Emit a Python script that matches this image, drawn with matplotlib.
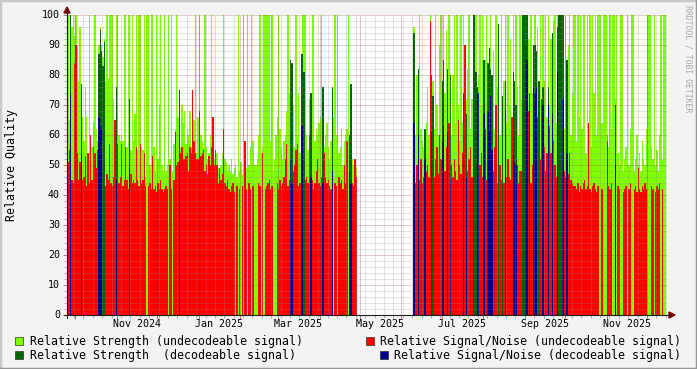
import numpy as np
import pandas as pd
import matplotlib
matplotlib.use("Agg")
import matplotlib.pyplot as plt
import matplotlib.dates as mdates
from matplotlib.lines import Line2D
from matplotlib.patches import Rectangle, Polygon

N = None  # no sample that day

first_day = "2024-09-25"

# light green: relative strength, undecodeable signal (daily)
strength_undec = [
    100, 65, 100, 96, 100, 93, 100, 90, 78, 96,
    70, 66, 58, 76, 66, 52, 100, 60, 56, 64,
    100, 62, 58, 90, 96, 90, 86, 92, 78, 100,
    79, 100, 100, 100, 72, 60, 100, 100, 60, 58,
    60, 58, 100, 100, 56, 100, 100, 55, 100, 58,
    67, 100, 55, 100, 100, 56, 55, 100, 46, 100,
    100, 50, 100, 100, 56, 48, 100, 52, 70, 100,
    50, 48, 100, 48, 50, 100, 52, 100, 48, 57,
    62, 100, 66, 70, 56, 70, 64, 68, 57, 62,
    60, 68, 56, 62, 65, 100, 54, 66, 100, 60,
    58, 56, 100, 56, 52, 54, 60, 100, 62, 52,
    52, 54, 49, 48, 50, 54, 100, 52, 51, 48,
    50, 48, 52, 47, 49, 50, 46, 100, 48, 51,
    47, 100, 52, 49, 100, 50, 56, 100, 58, 50,
    50, 52, 60, 100, 54, 56, 100, 100, 100, 100,
    100, 58, 100, 48, 52, 60, 66, 100, 62, 56,
    52, 58, 60, 68, 100, 74, 60, 62, 70, 56,
    100, 60, 74, 54, 62, 100, 100, 100, 60, 55,
    72, 60, 100, 100, 58, 62, 60, 64, 66, 100,
    66, 56, 60, 64, 56, 52, 58, 60, 66, 100,
    60, 100, 54, 56, 62, 50, 58, 60, 62, 100,
    58, 64, 52, 50, 48, 49,
    N, N, N, N, N, N, N, N, N, N, N, N, N, N, N, N, N, N, N, N, N,
    N, N, N, N, N, N, N, N, N, N, N, N, N, N, N, N, N, N, N, N, N,
    96, 60, 80, 62, 100, 62, 58, 56, 59, 64,
    76, 60, 100, 58, 78, 62, 100, 70, 60, 90,
    100, 66, 100, 74, 95, 62, 100, 78, 60, 80,
    100, 64, 100, 70, 58, 100, 64, 100, 66, 72,
    82, 100, 62, 72, 100, 66, 100, 60, 80, 100,
    70, 100, 62, 85, 100, 64, 86, 100, 70, 88,
    62, 100, 76, 84, 60, 100, 66, 78, 100, 64,
    100, 70, 92, 62, 100, 66, 100, 76, 60, 100,
    72, 100, 66, 100, 80, 92, 60, 100, 74, 86,
    100, 64, 96, 70, 100, 62, 100, 78, 100, 66,
    100, 70, 92, 62, 98, 100, 64, 100, 74, 100,
    70, 100, 62, 100, 80, 90, 100, 60, 74, 100,
    100, 58, 100, 66, 100, 62, 100, 100, 54, 100,
    62, 100, 56, 100, 74, 100, 60, 100,
    100, 100, 64, 100, 100, 100, 60, 56, 100, 62,
    100, 100, 72, 100, 54, 50, 100, 100, 48, 52,
    56, 100, 50, 62, 100, 100, 48, 52, 60, 50,
    54, 48, 58, 52, 50, 62, 100, 100, 100, 56,
    52, 100, 50, 55, 48, 60, 100, 52, 100, 100,
]

# red: relative signal/noise, undecodeable signal (daily)
snr_undec = [
    51, 55, 50, 45, 44, 84, 90, 54, 45, 51,
    44, 45, 46, 53, 43, 54, 44, 60, 45, 56,
    54, 49, 55, 45, 44, 46, 45, 44, 43, 47,
    45, 57, 44, 43, 46, 65, 45, 57, 44, 46,
    57, 43, 45, 56, 45, 42, 44, 47, 44, 45,
    44, 56, 45, 43, 57, 44, 45, 54, 43, N,
    43, 44, 42, 53, 42, 43, 41, 44, 42, 45,
    42, 41, 42, 43, 42, N, 50, 42, N, 45,
    61, 50, 51, 50, 54, 56, 52, 52, 53, 54,
    48, 56, 54, 75, 58, 54, 52, 52, 68, 53,
    54, 55, 48, 50, 47, 53, 50, 56, 66, 50,
    55, 50, 44, 49, 45, 47, 62, 44, 43, 45,
    42, 41, 43, 44, 41, N, 43, N, 42, N,
    43, N, 58, 42, N, 44, 42, N, 43, N,
    N, N, 44, 43, N, 54, N, 42, 43, 44,
    45, 42, 43, N, N, N, 44, 42, 45, 43,
    44, 46, 52, 57, 43, 45, 44, 44, 48, 50,
    55, 57, 43, 44, 44, 46, 44, 45, 46, 44,
    60, 44, 45, 42, 44, 48, 52, 44, 43, 46,
    44, 54, 46, 44, 45, 43, 42, 44, N, 44,
    43, N, 46, 44, 45, 42, 50, 44, 58, N,
    44, 44, 44, 43, 52, 46,
    N, N, N, N, N, N, N, N, N, N, N, N, N, N, N, N, N, N, N, N, N,
    N, N, N, N, N, N, N, N, N, N, N, N, N, N, N, N, N, N, N, N, N,
    47, 44, 50, 44, 45, 52, 44, 46, 44, 48,
    50, 46, 98, 44, 44, 46, 52, 56, 47, 60,
    52, 44, 44, 48, 56, 44, 64, 44, 50, 46,
    52, 48, 45, 65, 50, 47, 54, 44, 90, 44,
    48, 52, 56, 46, 44, 44, 44, 44, 44, 50,
    54, 46, 44, 62, 45, 44, 44, 44, 44, 48,
    56, 70, 44, 76, 50, 45, 44, 44, 44, 46,
    52, 46, 45, 66, 44, 44, 44, 50, 44, 48,
    48, 44, 44, 44, 44, 68, 56, 44, 50, 46,
    44, 44, 66, 44, 52, 72, 44, 56, 48, 54,
    44, 63, 54, 44, 58, 50, 46, 44, 44, 44,
    44, 44, 48, 46, 44, 47, 54, 45, 44, 43,
    43, 42, 44, 41, 43, 42, 44, 45, 42, 43,
    64, 42, 41, 43, 44, 42, 41, 43,
    N, N, 42, N, N, N, 58, 43, 42, 44,
    N, N, 42, N, 43, 42, N, N, 41, 42,
    43, N, 42, 44, N, N, 42, 43, 41, 49,
    42, 41, 43, 42, 44, 42, N, N, N, 43,
    42, N, 41, 43, 42, 44, N, 42, N, N,
]

# days (index from first_day) with a decodeable signal
dec_day = [
    2, 10, 23, 24, 25, 26, 27, 36, 46, 83,
    166, 167, 174, 175, 176, 181, 190, 197, 210, 211,
    258, 261, 266, 271, 272, 279, 280, 283, 285, 295,
    297, 302, 303, 304, 305, 306, 310, 313, 314, 315,
    316, 321, 324, 326, 332, 333, 334, 339, 340, 341,
    342, 344, 347, 348, 349, 351, 354, 358, 361, 365,
    366, 367, 368, 369, 372, 408,
]
# dark green: relative strength, decodeable signal
dec_strength = [
    100, 77, 87, 95, 88, 83, 91, 76, 72, 75,
    85, 84, 87, 87, 81, 74, 76, 76, 60, 77,
    94, 82, 62, 80, 73, 78, 85, 82, 80, 74,
    67, 100, 100, 81, 76, 70, 85, 84, 89, 82,
    80, 97, 73, 78, 81, 78, 70, 100, 100, 100,
    100, 74, 90, 90, 88, 78, 76, 76, 94, 96,
    100, 100, 100, 100, 85, 70,
]
# dark blue: relative signal/noise, decodeable signal
dec_snr = [
    74, 54, 66, 63, 62, N, N, 45, 49, 50,
    52, 44, 63, 63, N, 46, 44, 48, 48, 44,
    64, 60, 52, 61, N, 58, 63, 61, 45, 46,
    46, N, N, N, 74, 74, 67, 68, 61, 73,
    55, N, N, 68, 53, 51, 50, N, N, 90,
    85, 68, 76, 74, 76, N, 70, 70, 67, 81,
    N, N, N, 72, 54, 50,
]

month_labels = ["Nov 2024", "Jan 2025", "Mar 2025", "May 2025",
                "Jul 2025", "Sep 2025", "Nov 2025"]
label_dates = ["2024-11-16", "2025-01-16", "2025-03-16", "2025-05-16",
               "2025-07-16", "2025-09-16", "2025-11-16"]

legend_items = [
    ("Relative Strength (undecodeable signal)", "#80FF00"),
    ("Relative Signal/Noise (undecodeable signal)", "#FF0000"),
    ("Relative Strength  (decodeable signal)", "#006400"),
    ("Relative Signal/Noise (decodeable signal)", "#00008C"),
]

MONO = "DejaVu Sans Mono"
W, H = 697, 369

fig = plt.figure(figsize=(W / 100, H / 100), dpi=100, facecolor="#F3F3F3")


def fx(px):
    return px / W


def fy(py):
    return 1 - py / H


ax = fig.add_axes([fx(67), fy(315), 600 / W, 300 / H])
ax.set_facecolor("white")

n = len(strength_undec)
x = mdates.date2num(pd.date_range(first_day, periods=n, freq="D"))

dec_s = np.full(n, np.nan)
dec_n = np.full(n, np.nan)
dec_s[dec_day] = np.array(dec_strength, dtype=float)
dec_n[dec_day] = np.array(dec_snr, dtype=float)


def bars(vals, color):
    v = np.array(vals, dtype=float)
    ok = ~np.isnan(v)
    ax.bar(x[ok], v[ok], width=1.0, align="edge", color=color,
           linewidth=0, antialiased=False, zorder=1)


bars(strength_undec, legend_items[0][1])
bars(snr_undec, legend_items[1][1])
bars(dec_s, legend_items[2][1])
bars(dec_n, legend_items[3][1])

x0 = mdates.date2num(pd.Timestamp("2024-09-24 18:00"))
x1 = x0 + 447.2
ax.set_xlim(x0, x1)
ax.set_ylim(0, 100)

# rrdtool style dotted grid drawn over the data
minor_c = (0.55, 0.55, 0.55, 0.5)
major_c = (0.51, 0.12, 0.12, 0.45)
dots = (0, (1, 1))
weeks = pd.date_range("2024-09-20", "2025-12-20", freq="W-MON")
months = pd.date_range("2024-10-01", "2025-12-01", freq="MS")
for d in mdates.date2num(weeks):
    if x0 < d < x1:
        ax.axvline(d, color=minor_c, lw=0.72, ls=dots, zorder=5)
for d in mdates.date2num(months):
    if x0 < d < x1:
        ax.axvline(d, color=major_c, lw=0.72, ls=dots, zorder=6)
for v in range(2, 101, 2):
    if v % 10:
        ax.axhline(v, color=minor_c, lw=0.72, ls=dots, zorder=5)
for v in range(10, 101, 10):
    ax.axhline(v, color=major_c, lw=0.72, ls=dots, zorder=6)

for s in ax.spines.values():
    s.set_visible(False)
ax.set_xticks(mdates.date2num(months))
ax.set_xticks(mdates.date2num(weeks), minor=True)
ax.set_xticklabels([])
ax.set_yticks(range(0, 101, 10))
ax.set_yticks(range(0, 101, 2), minor=True)
ax.set_yticklabels([])
ax.set_xlim(x0, x1)
ax.tick_params(axis="both", which="major", length=3, width=0.72, color="#B08080")
ax.tick_params(axis="both", which="minor", length=2, width=0.72, color="#B0B0B0")

# tick labels
for v in range(0, 101, 10):
    fig.text(fx(60), fy(315 - 3 * v), str(v), ha="right", va="center",
             family=MONO, fontsize=7.2)
for lab, d in zip(month_labels, label_dates):
    xp = 67 + (mdates.date2num(pd.Timestamp(d)) - x0) / (x1 - x0) * 600
    fig.text(fx(xp), fy(324), lab, ha="center", va="center",
             family=MONO, fontsize=7.2)

# axes with arrows
axis_c = "#202020"
arrow_c = "#800000"
fig.add_artist(Line2D([fx(64), fx(670)], [fy(315), fy(315)], color=axis_c,
                      lw=0.8, transform=fig.transFigure))
fig.add_artist(Line2D([fx(67), fx(67)], [fy(318), fy(10)], color=axis_c,
                      lw=0.8, transform=fig.transFigure))
fig.add_artist(Polygon([[fx(669), fy(312)], [fx(669), fy(318)], [fx(675), fy(315)]],
                       closed=True, color=arrow_c, transform=fig.transFigure))
fig.add_artist(Polygon([[fx(64), fy(13)], [fx(70), fy(13)], [fx(67), fy(7)]],
                       closed=True, color=arrow_c, transform=fig.transFigure))

# axis title and watermark
fig.text(fx(12), fy(165), "Relative Quality", rotation=90, ha="center",
         va="center", family=MONO, fontsize=8.4)
fig.text(fx(688), fy(5), "RRDTOOL / TOBI OETIKER", rotation=270, ha="center",
         va="top", family=MONO, fontsize=5.9, color="#A8A8A8")

# legend
legend_pos = [(15, 341, 30), (366, 341, 380), (15, 355, 30), (380, 355, 394)]
for (label, color), (bx, by, tx) in zip(legend_items, legend_pos):
    fig.add_artist(Rectangle((fx(bx), fy(by + 4)), 8 / W, 8 / H, facecolor=color,
                             edgecolor="#303030", lw=0.5, transform=fig.transFigure))
    fig.text(fx(tx), fy(by), label, ha="left", va="center", family=MONO,
             fontsize=8.4)

# 3d frame of the canvas
fig.add_artist(Line2D([0, 0, 1], [0, 1, 1], color="#C8C8C8", lw=2.5,
                      transform=fig.transFigure))
fig.add_artist(Line2D([0, 1, 1], [0, 0, 1], color="#969696", lw=2.5,
                      transform=fig.transFigure))

fig.savefig("out.png", dpi=100, facecolor=fig.get_facecolor())
